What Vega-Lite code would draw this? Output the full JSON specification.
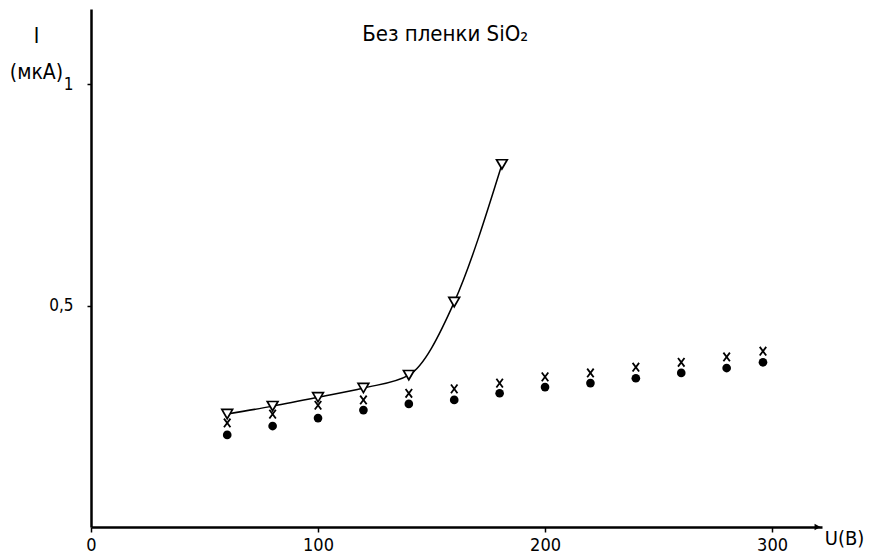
{
  "$schema": "https://vega.github.io/schema/vega-lite/v6.json",
  "autosize": {"type": "none"},
  "width": 731,
  "height": 518,
  "padding": {"left": 91, "top": 9, "right": 48, "bottom": 33},
  "background": "white",
  "config": {
    "font": "DejaVu Sans Condensed, Liberation Sans, sans-serif",
    "view": {"stroke": null},
    "axis": {"grid": false, "domainColor": "black", "tickColor": "black", "labelColor": "black", "titleColor": "black", "labelFont": "DejaVu Sans Condensed, Liberation Sans, sans-serif", "titleFont": "DejaVu Sans Condensed, Liberation Sans, sans-serif"}
  },
  "datasets": {
    "tri": [
      {"u": 60, "i": 0.255}, {"u": 80, "i": 0.273}, {"u": 100, "i": 0.293},
      {"u": 120, "i": 0.314}, {"u": 140, "i": 0.343}, {"u": 160, "i": 0.508},
      {"u": 181, "i": 0.819}
    ],
    "cross": [
      {"u": 60, "i": 0.235}, {"u": 80, "i": 0.255}, {"u": 100, "i": 0.275},
      {"u": 120, "i": 0.287}, {"u": 140, "i": 0.302}, {"u": 160, "i": 0.312},
      {"u": 180, "i": 0.325}, {"u": 200, "i": 0.339}, {"u": 220, "i": 0.348},
      {"u": 240, "i": 0.361}, {"u": 260, "i": 0.372}, {"u": 280, "i": 0.384},
      {"u": 296, "i": 0.397}
    ],
    "dot": [
      {"u": 60, "i": 0.208}, {"u": 80, "i": 0.228}, {"u": 100, "i": 0.246},
      {"u": 120, "i": 0.264}, {"u": 140, "i": 0.278}, {"u": 160, "i": 0.287},
      {"u": 180, "i": 0.302}, {"u": 200, "i": 0.316}, {"u": 220, "i": 0.325},
      {"u": 240, "i": 0.336}, {"u": 260, "i": 0.348}, {"u": 280, "i": 0.359},
      {"u": 296, "i": 0.372}
    ],
    "title": [{"u": 156, "i": 1.114, "t": "Без пленки SiO₂"}],
    "arrow": [{"u": 320, "i": 0}]
  },
  "layer": [
    {
      "data": {"name": "tri"},
      "mark": {"type": "line", "interpolate": "monotone", "color": "black", "strokeWidth": 1.5},
      "encoding": {
        "x": {"field": "u", "type": "quantitative", "scale": {"domain": [0, 322], "nice": false},
          "axis": {"values": [0, 100, 200, 300], "domainWidth": 2.5, "tickSize": 5, "tickWidth": 1.5, "labelPadding": 4, "labelFontSize": 18, "labelFlush": false, "labelBaseline": "top",
            "title": "U(B)", "titleFontSize": 20, "titleFontWeight": "normal", "titleX": 753, "titleY": 11, "titleAlign": "center", "titleBaseline": "middle", "titleAnchor": null}},
        "y": {"field": "i", "type": "quantitative", "scale": {"domain": [0, 1.17], "nice": false},
          "axis": {"values": [0.5, 1], "labelExpr": "datum.value == 1 ? '1' : '0,5'", "domainWidth": 2.5, "tickSize": 4, "tickWidth": 1.5, "labelPadding": 14, "labelFontSize": 17,
            "title": ["I", "(мкА)"], "titleAngle": 0, "titleFontSize": 21, "titleFontWeight": "normal", "titleX": -55, "titleY": 16, "titleAlign": "center", "titleBaseline": "top", "titleLineHeight": 36, "titleAnchor": null}}
      }
    },
    {
      "data": {"name": "tri"},
      "mark": {"type": "point", "shape": "triangle-down", "filled": true, "fill": "white", "stroke": "black", "strokeWidth": 1.7, "size": 115, "opacity": 1},
      "encoding": {"x": {"field": "u", "type": "quantitative"}, "y": {"field": "i", "type": "quantitative"}}
    },
    {
      "data": {"name": "cross"},
      "mark": {"type": "point", "shape": "M-0.75,-1L0.75,1M-0.75,1L0.75,-1", "filled": false, "stroke": "black", "strokeWidth": 1.8, "size": 75, "opacity": 1},
      "encoding": {"x": {"field": "u", "type": "quantitative"}, "y": {"field": "i", "type": "quantitative"}}
    },
    {
      "data": {"name": "dot"},
      "mark": {"type": "point", "shape": "circle", "filled": true, "color": "black", "size": 75, "opacity": 1},
      "encoding": {"x": {"field": "u", "type": "quantitative"}, "y": {"field": "i", "type": "quantitative"}}
    },
    {
      "data": {"name": "arrow"},
      "mark": {"type": "point", "shape": "triangle-right", "filled": true, "color": "black", "size": 45, "opacity": 1},
      "encoding": {"x": {"field": "u", "type": "quantitative"}, "y": {"field": "i", "type": "quantitative"}}
    },
    {
      "data": {"name": "title"},
      "mark": {"type": "text", "fontSize": 22, "align": "center", "baseline": "middle", "color": "black"},
      "encoding": {"x": {"field": "u", "type": "quantitative"}, "y": {"field": "i", "type": "quantitative"}, "text": {"field": "t"}}
    }
  ]
}
